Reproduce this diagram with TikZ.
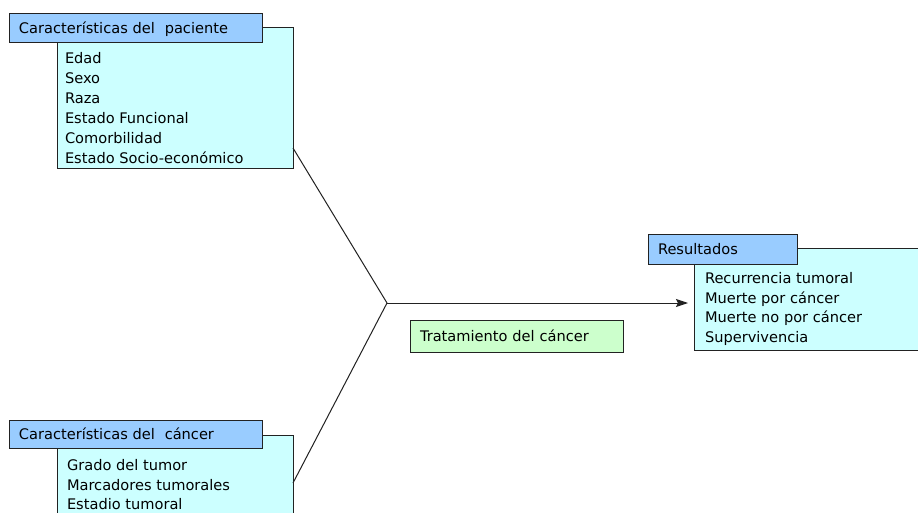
\documentclass[tikz,border=0pt]{standalone}
\usepackage{fontspec}
\setmainfont{DejaVu Sans}
\usetikzlibrary{arrows.meta,calc}
\definecolor{hdrblue}{HTML}{99CCFF}
\definecolor{bodycyan}{HTML}{CCFFFF}
\definecolor{treatgreen}{HTML}{CCFFCC}
\definecolor{edge}{HTML}{222222}
\begin{document}
\begin{tikzpicture}[x=1pt,y=-1pt,
  every node/.style={font=\fontsize{14.6}{17}\selectfont, inner sep=0pt, outer sep=0pt},
  hdr/.style={draw=edge, line width=1pt, fill=hdrblue, anchor=north west, minimum height=#1, align=left, inner xsep=10pt, text height=12pt, text depth=2pt},
  bodybox/.style={draw=edge, line width=1pt, fill=bodycyan, anchor=north west},
  item/.style={anchor=base west},
  conn/.style={draw=edge, line width=1pt}
]
\useasboundingbox (0,0) rectangle (918,513);
\clip (0,0) rectangle (918,513);
\fill[white] (0,0) rectangle (918,513);

% patient
\node[bodybox, minimum width=236pt, minimum height=141pt] (pbody) at (57,28) {};
\node[hdr=29pt, text width=233pt] (phdr) at (9,14) {Características del\ \ paciente};
\foreach \t [count=\i] in {Edad,Sexo,Raza,Estado Funcional,Comorbilidad,Estado Socio-económico}
  \node[item] (p\i) at (65,{44+19.9*\i}) {\t};

% cancer
\node[bodybox, minimum width=236pt, minimum height=100pt] (cbody) at (57,435) {};
\node[hdr=28pt, text width=233pt] (chdr) at (9,420) {Características del\ \ cáncer};
\foreach \t [count=\i] in {Grado del tumor,Marcadores tumorales,Estadio tumoral}
  \node[item] (c\i) at (67,{451+19.5*\i}) {\t};

% results
\node[bodybox, minimum width=236pt, minimum height=102pt] (rbody) at (694,248) {};
\node[hdr=30pt, text width=129pt] (rhdr) at (648,234) {Resultados};
\foreach \t [count=\i] in {Recurrencia tumoral,Muerte por cáncer,Muerte no por cáncer,Supervivencia}
  \node[item] (r\i) at (705,{264+19.5*\i}) {\t};

% treatment
\node[draw=edge, line width=1pt, fill=treatgreen, anchor=north west, minimum width=213pt, minimum height=32pt, text width=193pt, align=left, inner xsep=10pt, text height=12pt, text depth=2pt] (treat) at (410,320) {Tratamiento del cáncer};

% connectors
\coordinate (j) at (387,303);
\draw[conn] ($(pbody.south east)+(0,-21)$) -- (j);
\draw[conn] ($(cbody.north east)+(0,48)$) -- (j);
\draw[conn, -{Stealth[length=12pt,width=8pt,inset=2pt]}, shorten >=6pt] (j) -- (rbody.west |- j);
\end{tikzpicture}
\end{document}
